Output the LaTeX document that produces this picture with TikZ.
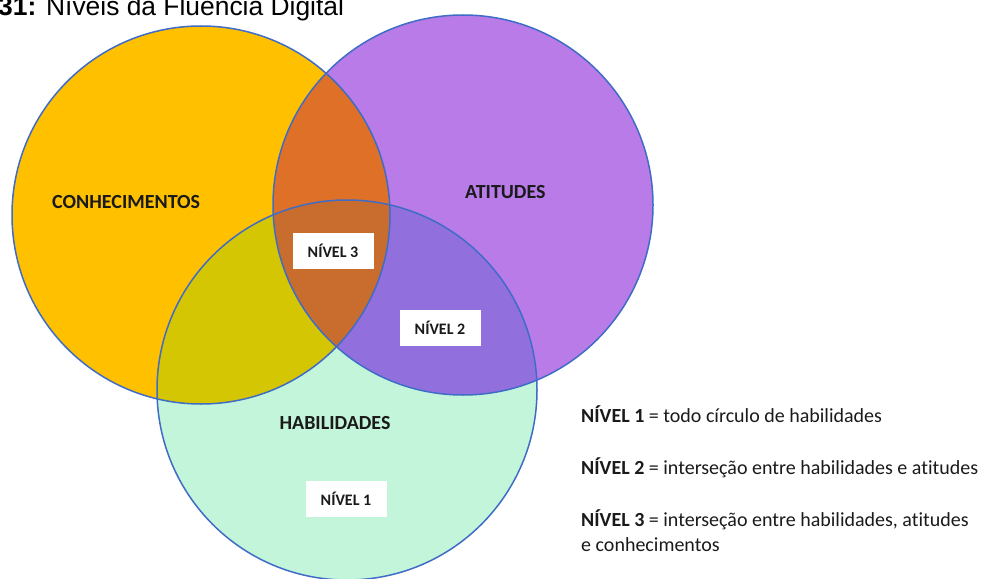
\documentclass[tikz,border=0pt]{standalone}
\usepackage{fontspec}
\setmainfont[Ligatures=NoCommon]{Carlito}
\newfontfamily\arialfont{Liberation Sans}
\definecolor{cOr}{HTML}{FFC000}
\definecolor{cPu}{HTML}{B87BE8}
\definecolor{cGr}{HTML}{C2F5DA}
\definecolor{cOP}{HTML}{DE7028}
\definecolor{cOG}{HTML}{D5C604}
\definecolor{cPG}{HTML}{9170DE}
\definecolor{cAll}{HTML}{C86D2E}
\definecolor{cLine}{HTML}{3F6CC6}
\definecolor{cTxt}{HTML}{1A1A1A}
\tikzset{
  circlabel/.style={font=\fontsize{20}{24}\selectfont\bfseries, text=cTxt, inner sep=0pt},
  levelbox/.style={fill=white, draw=none, minimum width=81pt, minimum height=36pt, inner sep=0pt,
    font=\fontsize{16}{19}\selectfont\bfseries, text=cTxt},
  legend/.style={anchor=base west, font=\fontsize{20}{24}\selectfont, text=cTxt, inner sep=0pt},
  outline/.style={draw=cLine, line width=1.5pt}
}
\begin{document}
\begin{tikzpicture}[x=1pt,y=-1pt]
\useasboundingbox (0,0) rectangle (984,578);
% circle fills
\fill[cOr] (201,215) circle (189);
\fill[cPu] (463,205) circle (190);
\fill[cGr] (347,390) circle (190);
% pairwise intersections
\begin{scope}
  \clip (201,215) circle (189);
  \fill[cOP] (463,205) circle (190);
  \fill[cOG] (347,390) circle (190);
\end{scope}
\begin{scope}
  \clip (463,205) circle (190);
  \fill[cPG] (347,390) circle (190);
\end{scope}
\begin{scope}
  \clip (201,215) circle (189);
  \clip (463,205) circle (190);
  \fill[cAll] (347,390) circle (190);
\end{scope}
% outlines as named nodes
\node[circle, outline, minimum size=378pt, inner sep=0pt] (con) at (201,215) {};
\node[circle, outline, minimum size=380pt, inner sep=0pt] (ati) at (463,205) {};
\node[circle, outline, minimum size=380pt, inner sep=0pt] (hab) at (347,390) {};
% title
\node[anchor=base west, inner sep=0pt, font=\arialfont\fontsize{26.4}{30}\selectfont] (title) at (-2,16)
  {\textbf{31:} Níveis da Fluência Digital};
% circle labels
\node[circlabel, anchor=base west] (lcon) at (52,208) {CONHECIMENTOS};
\node[circlabel, anchor=base west] (lati) at (465,198) {ATITUDES};
\node[circlabel, anchor=base] (lhab) at (335,429) {HABILIDADES};
% level boxes
\node[levelbox] (n3) at (333,251) {NÍVEL 3};
\node[levelbox] (n2) at (440,328) {NÍVEL 2};
\node[levelbox] (n1) at (346,499) {NÍVEL 1};
% legend
\node[legend] (leg1) at (581,422) {\textbf{NÍVEL 1} = todo círculo de habilidades};
\node[legend] (leg2) at (581,474) {\textbf{NÍVEL 2} = interseção entre habilidades e atitudes};
\node[legend] (leg3) at (581,526) {\textbf{NÍVEL 3} = interseção entre habilidades, atitudes};
\node[legend] (leg4) at (581,551) {e conhecimentos};
\end{tikzpicture}
\end{document}
